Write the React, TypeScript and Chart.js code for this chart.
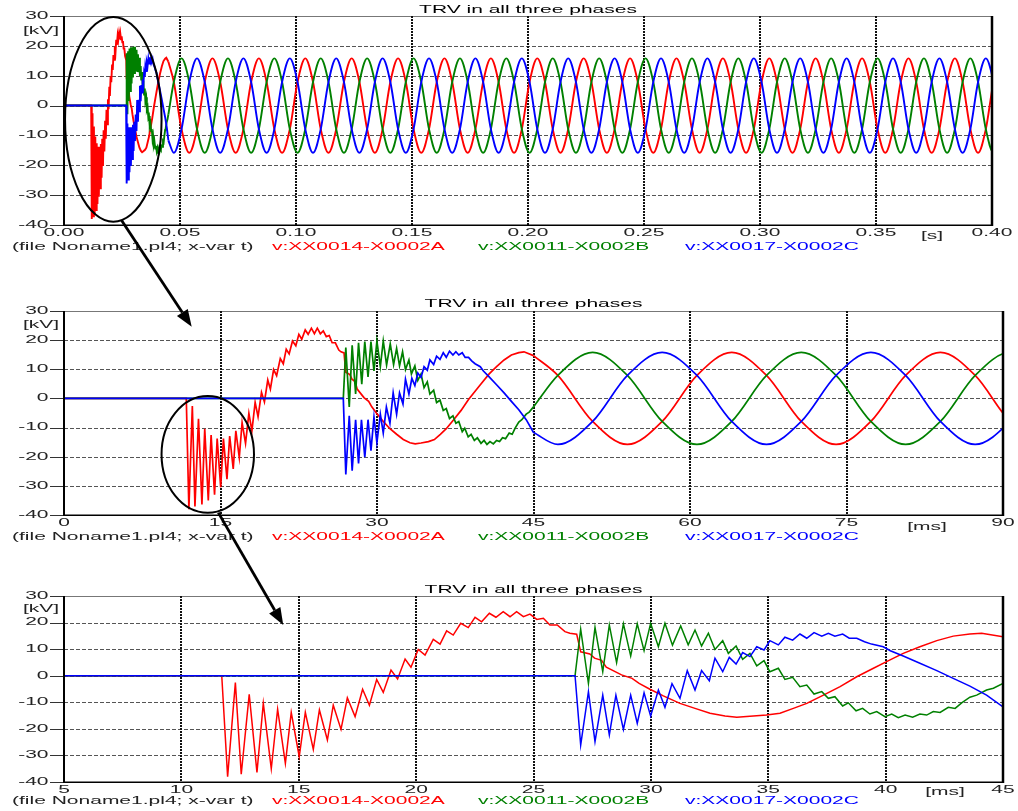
import React, { useEffect, useRef } from "react";
import { Chart, registerables } from "chart.js";

Chart.register(...registerables);

// ---------------- texts ----------------
const TITLE = "TRV in all three phases";
const FILE_LABEL = "(file Noname1.pl4; x-var t)";
const SERIES_NAMES = ["v:XX0014-X0002A", "v:XX0011-X0002B", "v:XX0017-X0002C"];
const SERIES_COLORS = ["#ff0000", "#008000", "#0000ff"];
const Y_UNIT = "[kV]";

// ---------------- ticks ----------------
const Y_TICKS = [30, 20, 10, 0, -10, -20, -30, -40];
const P1_X_TICKS = [0, 50, 100, 150, 200, 250, 300, 350, 400]; // ms
const P1_X_LABELS = ["0.00", "0.05", "0.10", "0.15", "0.20", "0.25", "0.30", "0.35", "0.40"];
const P2_X_TICKS = [0, 15, 30, 45, 60, 75, 90];
const P2_X_LABELS = ["0", "15", "30", "45", "60", "75", "90"];
const P3_X_TICKS = [5, 10, 15, 20, 25, 30, 35, 40, 45];
const P3_X_LABELS = ["5", "10", "15", "20", "25", "30", "35", "40", "45"];

// ---------------- data: transient part [t (ms), v (kV)] ----------------
const PHASE_A_TRANSIENT = [
  [0, 0], [11.72, 0], [11.97, -38.0], [12.3, -2.6], [12.55, -37.1], [12.89, -7.0], [13.22, -36.4],
  [13.49, -10.4], [13.83, -35.0], [14.1, -12.6], [14.43, -33.0], [14.68, -13.8], [15.02, -30.5],
  [15.28, -13.8], [15.62, -27.7], [15.88, -12.9], [16.22, -24.2], [16.47, -11.1], [16.8, -20.2],
  [17.07, -8.3], [17.4, -15.4], [17.72, -5.1], [18.01, -11.1], [18.32, -1.4], [18.6, -6.3],
  [18.93, 2.1], [19.21, -1.2], [19.53, 6.3], [19.78, 3.2], [20.09, 9.9], [20.38, 7.8],
  [20.73, 13.7], [21.02, 11.9], [21.3, 16.9], [21.58, 15.3], [21.9, 19.7], [22.22, 18.1],
  [22.51, 22.0], [22.79, 20.3], [23.12, 23.5], [23.4, 22.0], [23.71, 24.1], [24.0, 22.2],
  [24.28, 24.1], [24.57, 22.2], [24.85, 23.2], [25.14, 21.2], [25.42, 21.6], [25.7, 19.1],
  [26.01, 19.1], [26.34, 16.6], [26.55, 16.0], [26.84, 15.6], [27.01, 9.0], [27.4, 8.2],
  [27.6, 6.6], [27.9, 5.8], [28.1, 3.2], [28.75, 0.3], [29.2, -1.0], [29.5, -2.9], [29.96, -5.1],
  [30.53, -7.6], [31.24, -10.4], [31.88, -12.3], [32.52, -14.1], [33.16, -15.2], [33.66, -15.6],
  [34.22, -15.3], [34.93, -14.8], [35.5, -14.1], [36.07, -12.3], [36.64, -10.4], [37.35, -7.3],
  [38.06, -4.1], [38.77, -0.4], [39.48, 2.8], [40.04, 5.3], [40.75, 8.4], [41.46, 10.9],
  [42.18, 13.2], [42.88, 14.9], [43.59, 15.7], [44.09, 16.0], [45.0, 14.7],
];

const PHASE_B_TRANSIENT = [
  [0, 0], [26.77, 0], [27.01, 17.5], [27.34, -2.9], [27.62, 18.2], [27.95, 1.5], [28.23, 19.1],
  [28.54, 4.9], [28.83, 19.5], [29.14, 7.4], [29.42, 19.5], [29.71, 9.4], [29.99, 19.7],
  [30.32, 10.9], [30.6, 19.7], [30.92, 11.5], [31.27, 18.7], [31.59, 11.6], [31.88, 17.2],
  [32.16, 11.2], [32.45, 16.0], [32.73, 9.9], [33.06, 13.2], [33.3, 8.4], [33.63, 11.2],
  [33.91, 6.2], [34.22, 8.4], [34.51, 3.7], [34.82, 5.7], [35.07, 1.5], [35.43, 2.8],
  [35.71, -1.4], [36.04, -0.6], [36.35, -4.1], [36.64, -3.5], [36.95, -6.9], [37.28, -6.0],
  [37.56, -8.5], [37.84, -7.9], [38.17, -11.4], [38.41, -10.2], [38.74, -13.2], [39.02, -12.3],
  [39.33, -14.4], [39.62, -13.5], [39.97, -15.4], [40.26, -14.4], [40.54, -15.8], [40.83, -14.8],
  [41.15, -15.6], [41.46, -14.4], [41.75, -14.8], [42.03, -13.5], [42.32, -13.8], [42.67, -11.9],
  [42.96, -12.3], [43.24, -10.2], [43.59, -8.1], [43.88, -7.3], [44.3, -5.4], [44.59, -4.7],
  [45.0, -2.9],
];

const PHASE_C_TRANSIENT = [
  [0, 0], [26.77, 0], [27.01, -26.1], [27.34, -6.0], [27.62, -24.8], [27.95, -7.3], [28.23, -22.3],
  [28.51, -7.3], [28.83, -20.2], [29.14, -7.3], [29.42, -17.9], [29.71, -6.4], [29.99, -15.2],
  [30.32, -5.4], [30.6, -11.9], [30.9, -3.0], [31.24, -8.5], [31.55, 1.9], [31.88, -5.4],
  [32.16, 1.9], [32.49, -1.9], [32.73, 6.6], [33.06, 1.5], [33.34, 6.9], [33.63, 4.4],
  [33.91, 8.7], [34.22, 7.2], [34.51, 10.9], [34.82, 9.7], [35.07, 13.2], [35.43, 11.6],
  [35.71, 14.5], [36.04, 13.4], [36.35, 15.7], [36.64, 14.1], [36.95, 16.2], [37.28, 14.9],
  [37.56, 16.0], [37.84, 14.9], [38.17, 15.7], [38.45, 14.1], [38.77, 14.1], [39.1, 12.8],
  [39.4, 11.9], [39.9, 10.9], [40.2, 9.4], [40.75, 7.4], [41.46, 4.7], [42.18, 1.9],
  [42.88, -1.0], [43.59, -3.9], [44.3, -7.3], [45.0, -11.7],
];

// ---------------- data: steady state, sampled every 10/3 ms from 47.33 ms ----------------
const STEADY_START_MS = 44 + 10 / 3;
const STEADY_STEP_MS = 10 / 3;
const PHASE_A_STEADY = [
  7.9, -7.9, -15.8, -7.9, 7.9, 15.8, 7.9, -7.9, -15.8, -7.9, 7.9, 15.8, 7.9, -7.9, -15.8, -7.9, 7.9, 15.8,
  7.9, -7.9, -15.8, -7.9, 7.9, 15.8, 7.9, -7.9, -15.8, -7.9, 7.9, 15.8, 7.9, -7.9, -15.8, -7.9, 7.9, 15.8,
  7.9, -7.9, -15.8, -7.9, 7.9, 15.8, 7.9, -7.9, -15.8, -7.9, 7.9, 15.8, 7.9, -7.9, -15.8, -7.9, 7.9, 15.8,
  7.9, -7.9, -15.8, -7.9, 7.9, 15.8, 7.9, -7.9, -15.8, -7.9, 7.9, 15.8, 7.9, -7.9, -15.8, -7.9, 7.9, 15.8,
  7.9, -7.9, -15.8, -7.9, 7.9, 15.8, 7.9, -7.9, -15.8, -7.9, 7.9, 15.8, 7.9, -7.9, -15.8, -7.9, 7.9, 15.8,
  7.9, -7.9, -15.8, -7.9, 7.9, 15.8, 7.9, -7.9, -15.8, -7.9, 7.9, 15.8, 7.9, -7.9, -15.8, -7.9, 7.9, 15.8,
];
const PHASE_B_STEADY = [
  7.9, 15.8, 7.9, -7.9, -15.8, -7.9, 7.9, 15.8, 7.9, -7.9, -15.8, -7.9, 7.9, 15.8, 7.9, -7.9, -15.8, -7.9,
  7.9, 15.8, 7.9, -7.9, -15.8, -7.9, 7.9, 15.8, 7.9, -7.9, -15.8, -7.9, 7.9, 15.8, 7.9, -7.9, -15.8, -7.9,
  7.9, 15.8, 7.9, -7.9, -15.8, -7.9, 7.9, 15.8, 7.9, -7.9, -15.8, -7.9, 7.9, 15.8, 7.9, -7.9, -15.8, -7.9,
  7.9, 15.8, 7.9, -7.9, -15.8, -7.9, 7.9, 15.8, 7.9, -7.9, -15.8, -7.9, 7.9, 15.8, 7.9, -7.9, -15.8, -7.9,
  7.9, 15.8, 7.9, -7.9, -15.8, -7.9, 7.9, 15.8, 7.9, -7.9, -15.8, -7.9, 7.9, 15.8, 7.9, -7.9, -15.8, -7.9,
  7.9, 15.8, 7.9, -7.9, -15.8, -7.9, 7.9, 15.8, 7.9, -7.9, -15.8, -7.9, 7.9, 15.8, 7.9, -7.9, -15.8, -7.9,
];
const PHASE_C_STEADY = [
  -15.8, -7.9, 7.9, 15.8, 7.9, -7.9, -15.8, -7.9, 7.9, 15.8, 7.9, -7.9, -15.8, -7.9, 7.9, 15.8, 7.9, -7.9,
  -15.8, -7.9, 7.9, 15.8, 7.9, -7.9, -15.8, -7.9, 7.9, 15.8, 7.9, -7.9, -15.8, -7.9, 7.9, 15.8, 7.9, -7.9,
  -15.8, -7.9, 7.9, 15.8, 7.9, -7.9, -15.8, -7.9, 7.9, 15.8, 7.9, -7.9, -15.8, -7.9, 7.9, 15.8, 7.9, -7.9,
  -15.8, -7.9, 7.9, 15.8, 7.9, -7.9, -15.8, -7.9, 7.9, 15.8, 7.9, -7.9, -15.8, -7.9, 7.9, 15.8, 7.9, -7.9,
  -15.8, -7.9, 7.9, 15.8, 7.9, -7.9, -15.8, -7.9, 7.9, 15.8, 7.9, -7.9, -15.8, -7.9, 7.9, 15.8, 7.9, -7.9,
  -15.8, -7.9, 7.9, 15.8, 7.9, -7.9, -15.8, -7.9, 7.9, 15.8, 7.9, -7.9, -15.8, -7.9, 7.9, 15.8, 7.9, -7.9,
];

// ---------------- zoom annotations (in each panel's data units) ----------------
const ZOOM_ELLIPSES = [
  { panel: 0, t: 21.25, v: -4.6, rt: 20.8, rv: 34.3 },
  { panel: 1, t: 13.78, v: -19.2, rt: 4.43, rv: 20.0 },
];
const ZOOM_ARROWS = [
  { from: { panel: 0, t: 24.85, v: -38.5 }, to: { panel: 1, t: 12.24, v: 24.6 } },
  { from: { panel: 1, t: 14.79, v: -39.2 }, to: { panel: 2, t: 14.34, v: 19.1 } },
];

// ---------------- layout / style ----------------
const PAGE_W = 1018;
const PAGE_H = 811;
const FONT = '10.5px "Liberation Sans", Arial, Helvetica, sans-serif';
const TEXT_STRETCH = 2.0;
const LEGEND_X = [12, 272, 478, 685];
// draw order (higher number = drawn first / underneath): red bottom, blue on top
const SERIES_ORDER = [3, 2, 1];

const PANELS = [
  {
    top: 0, height: 260, padding: { left: 64, right: 26, top: 16, bottom: 35 },
    xMin: 0, xMax: 400, xTicks: P1_X_TICKS, xLabels: P1_X_LABELS, unit: "[s]",
    unitX: 932, unitDy: 11, titleDy: -6, tickDy: 8, legendDy: 22, kvDy: 15, lineWidth: 1.9,
  },
  {
    top: 260, height: 285, padding: { left: 64, right: 15, top: 51, bottom: 30 },
    xMin: 0, xMax: 90, xTicks: P2_X_TICKS, xLabels: P2_X_LABELS, unit: "[ms]",
    unitX: 927, unitDy: 12, titleDy: -7, tickDy: 8, legendDy: 22, kvDy: 14, lineWidth: 1.7,
  },
  {
    top: 545, height: 266, padding: { left: 64, right: 15, top: 51, bottom: 29 },
    xMin: 5, xMax: 45, xTicks: P3_X_TICKS, xLabels: P3_X_LABELS, unit: "[ms]",
    unitX: 945, unitDy: 10, titleDy: -6, tickDy: 8, legendDy: 19, kvDy: 13, lineWidth: 1.5,
  },
];

type Panel = (typeof PANELS)[number];

function toPoints(arr: number[][]) {
  return arr.map(([x, y]) => ({ x, y }));
}
function steadyPoints(transient: number[][], vals: number[]) {
  const last = transient[transient.length - 1];
  return [{ x: last[0], y: last[1] }].concat(
    vals.map((y, i) => ({ x: STEADY_START_MS + i * STEADY_STEP_MS, y }))
  );
}

function stretchText(ctx: CanvasRenderingContext2D, text: string, x: number, y: number, align: CanvasTextAlign, color: string) {
  ctx.save();
  ctx.translate(x, y);
  ctx.scale(TEXT_STRETCH, 1);
  ctx.font = FONT;
  ctx.fillStyle = color;
  ctx.textAlign = align;
  ctx.textBaseline = "middle";
  ctx.fillText(text, 0, 0);
  ctx.restore();
}

function seg(ctx: CanvasRenderingContext2D, x1: number, y1: number, x2: number, y2: number) {
  ctx.beginPath();
  ctx.moveTo(x1, y1);
  ctx.lineTo(x2, y2);
  ctx.stroke();
}

function makeDecor(panel: Panel) {
  return {
    id: "trvDecor",
    beforeDatasetsDraw(chart: any) {
      const { ctx, chartArea: a } = chart;
      const xs = chart.scales.x;
      const ys = chart.scales.y;
      ctx.save();
      Y_TICKS.forEach((v) => {
        const y = Math.round(ys.getPixelForValue(v)) + 0.5;
        ctx.lineWidth = 1;
        if (v === Y_TICKS[0]) {
          ctx.setLineDash([]);
          ctx.strokeStyle = "#777";
          seg(ctx, a.left, y, a.right, y);
        } else if (v !== Y_TICKS[Y_TICKS.length - 1]) {
          ctx.setLineDash([4, 2]);
          ctx.strokeStyle = "#555";
          seg(ctx, a.left, y, a.right, y);
        }
        ctx.setLineDash([]);
        ctx.strokeStyle = "#333";
        seg(ctx, a.left - 14, y, a.left, y);
      });
      panel.xTicks.forEach((t) => {
        if (t <= panel.xMin || t >= panel.xMax) return;
        const x = Math.round(xs.getPixelForValue(t));
        ctx.lineWidth = 2;
        ctx.setLineDash([2, 1]);
        ctx.strokeStyle = "#111";
        seg(ctx, x, a.top, x, a.bottom);
      });
      ctx.restore();
    },
    afterDatasetsDraw(chart: any) {
      const { ctx, chartArea: a } = chart;
      ctx.save();
      ctx.setLineDash([]);
      ctx.strokeStyle = "#000";
      ctx.lineWidth = 1.5;
      seg(ctx, a.left, a.bottom + 0.25, a.right, a.bottom + 0.25);
      ctx.lineWidth = 2;
      seg(ctx, a.left, a.top, a.left, a.bottom + 1);
      ctx.lineWidth = 2.5;
      seg(ctx, a.right, a.top, a.right, a.bottom + 1);
      ctx.restore();
    },
    afterDraw(chart: any) {
      const { ctx, chartArea: a } = chart;
      const xs = chart.scales.x;
      const ys = chart.scales.y;
      const cx = (a.left + a.right) / 2;
      stretchText(ctx, TITLE, cx, a.top + panel.titleDy, "center", "#000");
      Y_TICKS.forEach((v) => {
        stretchText(ctx, String(v), a.left - 15.5, ys.getPixelForValue(v), "right", "#222");
      });
      stretchText(ctx, Y_UNIT, 41, a.top + panel.kvDy, "center", "#222");
      panel.xTicks.forEach((t, i) => {
        stretchText(ctx, panel.xLabels[i], xs.getPixelForValue(t), a.bottom + panel.tickDy, "center", "#222");
      });
      stretchText(ctx, panel.unit, panel.unitX, a.bottom + panel.unitDy, "center", "#222");
      const ly = a.bottom + panel.legendDy;
      stretchText(ctx, FILE_LABEL, LEGEND_X[0], ly, "left", "#222");
      SERIES_NAMES.forEach((n, i) => {
        stretchText(ctx, n, LEGEND_X[i + 1], ly, "left", SERIES_COLORS[i]);
      });
    },
  };
}

function buildConfig(panel: Panel): any {
  const transients = [PHASE_A_TRANSIENT, PHASE_B_TRANSIENT, PHASE_C_TRANSIENT];
  const steadies = [PHASE_A_STEADY, PHASE_B_STEADY, PHASE_C_STEADY];
  const datasets: any[] = [];
  transients.forEach((tr, i) => {
    datasets.push({
      label: SERIES_NAMES[i] + " transient",
      data: toPoints(tr),
      borderColor: SERIES_COLORS[i],
      borderWidth: panel.lineWidth,
      pointRadius: 0,
      tension: 0,
      fill: false,
      order: SERIES_ORDER[i],
    });
    datasets.push({
      label: SERIES_NAMES[i],
      data: steadyPoints(tr, steadies[i]),
      borderColor: SERIES_COLORS[i],
      borderWidth: panel.lineWidth,
      pointRadius: 0,
      cubicInterpolationMode: "monotone",
      fill: false,
      order: SERIES_ORDER[i],
    });
  });
  return {
    type: "line",
    data: { datasets },
    options: {
      animation: false,
      responsive: false,
      events: [],
      layout: { padding: panel.padding },
      plugins: { legend: { display: false }, tooltip: { enabled: false }, title: { display: false } },
      scales: {
        x: { type: "linear", min: panel.xMin, max: panel.xMax, display: false },
        y: { type: "linear", min: -40, max: 30, display: false },
      },
    },
    plugins: [makeDecor(panel)],
  };
}

function drawOverlay(canvas: HTMLCanvasElement, charts: any[]) {
  const ctx = canvas.getContext("2d");
  if (!ctx) return;
  ctx.clearRect(0, 0, canvas.width, canvas.height);
  const px = (p: number, t: number) => charts[p].scales.x.getPixelForValue(t);
  const py = (p: number, v: number) => PANELS[p].top + charts[p].scales.y.getPixelForValue(v);
  ctx.strokeStyle = "#000";
  ctx.fillStyle = "#000";
  ZOOM_ELLIPSES.forEach((e) => {
    const x = px(e.panel, e.t);
    const y = py(e.panel, e.v);
    const rx = Math.abs(px(e.panel, e.t + e.rt) - x);
    const ry = Math.abs(py(e.panel, e.v + e.rv) - y);
    ctx.lineWidth = 2;
    ctx.beginPath();
    ctx.ellipse(x, y, rx, ry, 0, 0, Math.PI * 2);
    ctx.stroke();
  });
  ZOOM_ARROWS.forEach((ar) => {
    const x1 = px(ar.from.panel, ar.from.t);
    const y1 = py(ar.from.panel, ar.from.v);
    const x2 = px(ar.to.panel, ar.to.t);
    const y2 = py(ar.to.panel, ar.to.v);
    const ang = Math.atan2(y2 - y1, x2 - x1);
    const headLen = 17;
    const headHalf = 6.5;
    const bx = x2 - headLen * Math.cos(ang);
    const by = y2 - headLen * Math.sin(ang);
    ctx.lineWidth = 2.8;
    seg(ctx, x1, y1, bx, by);
    ctx.beginPath();
    ctx.moveTo(x2, y2);
    ctx.lineTo(bx + headHalf * Math.sin(ang), by - headHalf * Math.cos(ang));
    ctx.lineTo(bx - headHalf * Math.sin(ang), by + headHalf * Math.cos(ang));
    ctx.closePath();
    ctx.fill();
  });
}

export default function App() {
  const r1 = useRef<HTMLCanvasElement>(null);
  const r2 = useRef<HTMLCanvasElement>(null);
  const r3 = useRef<HTMLCanvasElement>(null);
  const overlay = useRef<HTMLCanvasElement>(null);
  const refs = [r1, r2, r3];

  useEffect(() => {
    const charts = PANELS.map((p, i) => new Chart(refs[i].current as HTMLCanvasElement, buildConfig(p)));
    if (overlay.current) drawOverlay(overlay.current, charts);
    return () => charts.forEach((c) => c.destroy());
  }, []);

  return (
    <div
      style={{
        position: "absolute",
        left: 0,
        top: 0,
        width: PAGE_W,
        height: PAGE_H,
        overflow: "hidden",
        background: "#fff",
      }}
    >
      {PANELS.map((p, i) => (
        <canvas
          key={i}
          ref={refs[i]}
          width={PAGE_W}
          height={p.height}
          style={{ position: "absolute", left: 0, top: p.top, width: PAGE_W, height: p.height }}
        />
      ))}
      <canvas
        ref={overlay}
        width={PAGE_W}
        height={PAGE_H}
        style={{ position: "absolute", left: 0, top: 0, width: PAGE_W, height: PAGE_H, pointerEvents: "none" }}
      />
    </div>
  );
}
